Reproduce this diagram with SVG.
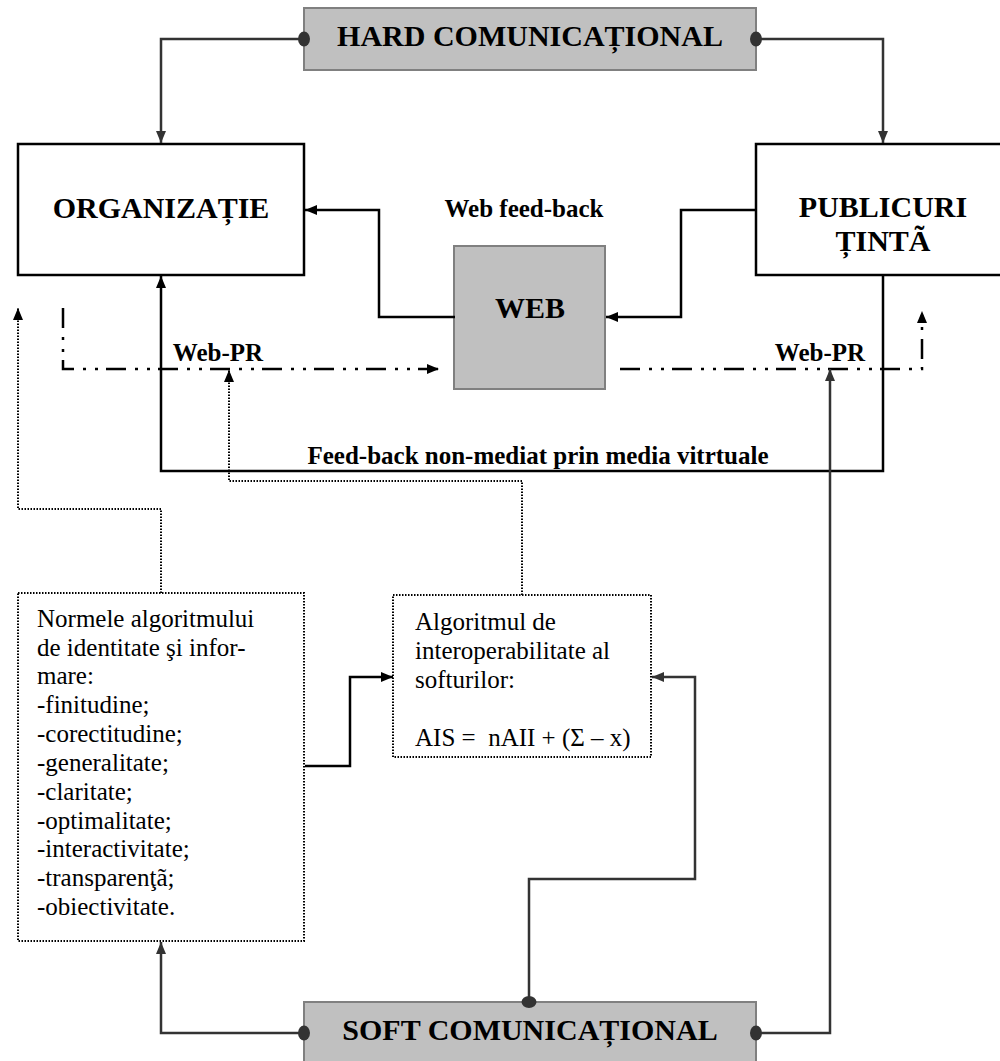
<svg xmlns="http://www.w3.org/2000/svg" width="1000" height="1061" viewBox="0 0 1000 1061">
<style>
  .bg{fill:#ffffff}
  .gray{fill:#c0c0c0;stroke:#808080;stroke-width:2}
  .box{fill:#ffffff;stroke:#000000;stroke-width:2.5}
  .dbox{fill:#ffffff;stroke:#000000;stroke-width:2;stroke-dasharray:1.5 1.5}
  .title{font-family:"Liberation Serif","Times New Roman",serif;font-weight:bold;font-size:30px;fill:#000;text-anchor:middle}
  .lbl{font-family:"Liberation Serif","Times New Roman",serif;font-weight:bold;font-size:25px;fill:#000;text-anchor:middle}
  .body{font-family:"Liberation Serif","Times New Roman",serif;font-size:25px;fill:#000}
  .c{fill:none;stroke:#000;stroke-width:2.5}
  .cg{fill:none;stroke:#333333;stroke-width:2.5}
  .dd{fill:none;stroke:#000;stroke-width:2.5;stroke-dasharray:20 9 3 9 3 8}
  .dot{fill:none;stroke:#000;stroke-width:2;stroke-dasharray:1.5 1.5}
</style>
<defs>
  <marker id="ab" markerUnits="userSpaceOnUse" markerWidth="12" markerHeight="10" refX="12" refY="5" orient="auto">
    <path d="M0,0 L12,5 L0,10 z" fill="#000"/>
  </marker>
  <marker id="ag" markerUnits="userSpaceOnUse" markerWidth="12" markerHeight="10" refX="12" refY="5" orient="auto">
    <path d="M0,0 L12,5 L0,10 z" fill="#333333"/>
  </marker>
  <marker id="dg" markerUnits="userSpaceOnUse" markerWidth="14" markerHeight="16" refX="7" refY="8" orient="auto">
    <ellipse cx="7" cy="8" rx="6" ry="7.5" fill="#333333"/>
  </marker>
</defs>
<rect class="bg" x="0" y="0" width="1000" height="1061"/>

<g id="hard">
  <rect class="gray" x="304" y="8" width="452" height="62"/>
  <text class="title" x="530" y="46">HARD COMUNICAȚIONAL</text>
</g>

<g id="organizatie">
  <rect class="box" x="18" y="144" width="286" height="131"/>
  <text class="title" x="161" y="218">ORGANIZAȚIE</text>
</g>

<g id="publicuri">
  <rect class="box" x="756" y="144" width="250" height="131"/>
  <text class="title" x="883" y="217">PUBLICURI</text>
  <text class="title" x="883" y="251">ȚINTÃ</text>
</g>

<g id="web">
  <rect class="gray" x="454" y="246" width="151" height="143"/>
  <text class="title" x="530" y="318">WEB</text>
</g>

<g id="normele">
  <rect class="dbox" x="18" y="593" width="286" height="348"/>
  <text class="body" x="37" y="627">Normele algoritmului</text>
  <text class="body" x="37" y="656">de identitate şi infor-</text>
  <text class="body" x="37" y="684">mare:</text>
  <text class="body" x="37" y="713">-finitudine;</text>
  <text class="body" x="37" y="742">-corectitudine;</text>
  <text class="body" x="37" y="771">-generalitate;</text>
  <text class="body" x="37" y="800">-claritate;</text>
  <text class="body" x="37" y="829">-optimalitate;</text>
  <text class="body" x="37" y="857">-interactivitate;</text>
  <text class="body" x="37" y="886">-transparenţã;</text>
  <text class="body" x="37" y="915">-obiectivitate.</text>
</g>

<g id="algoritmul">
  <rect class="dbox" x="393" y="595" width="258" height="162"/>
  <text class="body" x="415" y="630">Algoritmul de</text>
  <text class="body" x="415" y="659">interoperabilitate al</text>
  <text class="body" x="415" y="688">softurilor:</text>
  <text class="body" x="415" y="746" xml:space="preserve">AIS =  nAII + (Σ – x)</text>
</g>

<g id="soft">
  <rect class="gray" x="304" y="1002" width="452" height="66"/>
  <text class="title" x="530" y="1040">SOFT COMUNICAȚIONAL</text>
</g>

<g id="connectors">
  <path class="cg" d="M304,39 H161 V143" marker-start="url(#dg)" marker-end="url(#ag)"/>
  <path class="cg" d="M756,39 H883 V143" marker-start="url(#dg)" marker-end="url(#ag)"/>
  <path class="c" d="M455,317 H379 V210 H305" marker-end="url(#ab)"/>
  <path class="c" d="M756,210 H681 V317 H606" marker-end="url(#ab)"/>
  <path class="c" d="M883,276 V471 H161 V276" marker-end="url(#ab)"/>
  <path class="dd" d="M63,308 V369 H439" marker-end="url(#ab)"/>
  <path class="dd" d="M620,369 H922 V311" marker-end="url(#ab)"/>
  <path class="dot" d="M161,593 V509 H18 V308" marker-end="url(#ab)"/>
  <path class="dot" d="M522,595 V481 H229 V370" marker-end="url(#ab)"/>
  <path class="c" d="M305,766 H350 V677 H393" marker-end="url(#ab)"/>
  <path class="cg" d="M529,1002 V879 H695 V677 H652" marker-start="url(#dg)" marker-end="url(#ag)"/>
  <path class="cg" d="M304,1033 H161 V942" marker-start="url(#dg)" marker-end="url(#ag)"/>
  <path class="cg" d="M756,1033 H830 V369" marker-start="url(#dg)" marker-end="url(#ag)"/>
  <text class="lbl" x="524" y="217">Web feed-back</text>
  <text class="lbl" x="218" y="361">Web-PR</text>
  <text class="lbl" x="820" y="361">Web-PR</text>
  <text class="lbl" x="538" y="464">Feed-back non-mediat prin media vitrtuale</text>
</g>
</svg>
